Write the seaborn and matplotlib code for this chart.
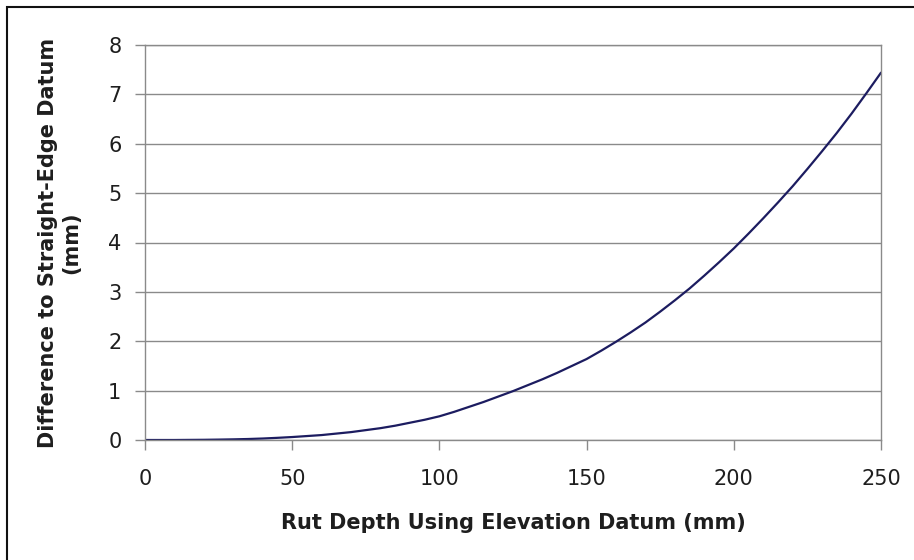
import matplotlib
matplotlib.use("Agg")
import matplotlib.pyplot as plt
import seaborn as sns
import pandas as pd
from matplotlib.patches import Rectangle

rut_depth = [0, 5, 10, 15, 20, 25, 30, 35, 40, 45, 50, 55, 60, 65, 70, 75,
             80, 85, 90, 95, 100, 105, 110, 115, 120, 125, 130, 135, 140,
             145, 150, 155, 160, 165, 170, 175, 180, 185, 190, 195, 200,
             205, 210, 215, 220, 225, 230, 235, 240, 245, 250]
difference = [0.0, 0.0, 0.0, 0.002, 0.004, 0.008, 0.013, 0.02, 0.03, 0.044,
              0.06, 0.08, 0.10, 0.13, 0.16, 0.20, 0.24, 0.29, 0.35, 0.41,
              0.48, 0.57, 0.67, 0.77, 0.88, 0.99, 1.11, 1.23, 1.36, 1.50,
              1.64, 1.81, 1.99, 2.18, 2.38, 2.60, 2.83, 3.07, 3.33, 3.60,
              3.88, 4.18, 4.49, 4.81, 5.14, 5.49, 5.85, 6.22, 6.61, 7.02,
              7.44]
x_ticks = [0, 50, 100, 150, 200, 250]
y_ticks = [0, 1, 2, 3, 4, 5, 6, 7, 8]

sns.set_theme(style="white")
plt.rcParams['font.family'] = ['DejaVu Sans']

df = pd.DataFrame({"x": rut_depth, "y": difference})

fig = plt.figure(figsize=(9.14, 5.6), dpi=100)
ax = fig.add_axes([145/914, 1-440/560, (881-145)/914, (440-45)/560])

sns.lineplot(data=df, x="x", y="y", ax=ax, color="#1c1c60", linewidth=1.6)

ax.set_xlim(0, 250)
ax.set_ylim(0, 8)
ax.set_xticks(x_ticks)
ax.set_yticks(y_ticks)
ax.set_xticklabels([str(v) for v in x_ticks], fontsize=15, color="#1e1e1e")
ax.set_yticklabels([str(v) for v in y_ticks], fontsize=15, color="#1e1e1e")
ax.yaxis.grid(True, color="#8a8a8a", linewidth=1.0)
ax.xaxis.grid(False)
ax.set_axisbelow(True)
for s in ax.spines.values():
    s.set_color("#8a8a8a")
    s.set_linewidth(1.0)
ax.tick_params(axis="both", which="major", direction="out", length=7,
               width=1.0, color="#8a8a8a", bottom=True, left=True)
ax.tick_params(axis="x", pad=14)
ax.tick_params(axis="y", pad=10)

ax.set_xlabel("Rut Depth Using Elevation Datum (mm)", fontsize=15,
              fontweight="bold", color="#1e1e1e", labelpad=17)
ax.set_ylabel("Difference to Straight-Edge Datum\n(mm)", fontsize=15,
              fontweight="bold", color="#1e1e1e", labelpad=19, linespacing=1.2)

fig.patches.append(Rectangle((7/914, -0.1), 1.1, 1 - 7/560 + 0.1,
                             transform=fig.transFigure, fill=False,
                             edgecolor="#111111", linewidth=1.5))

fig.savefig("out.png", dpi=100)
